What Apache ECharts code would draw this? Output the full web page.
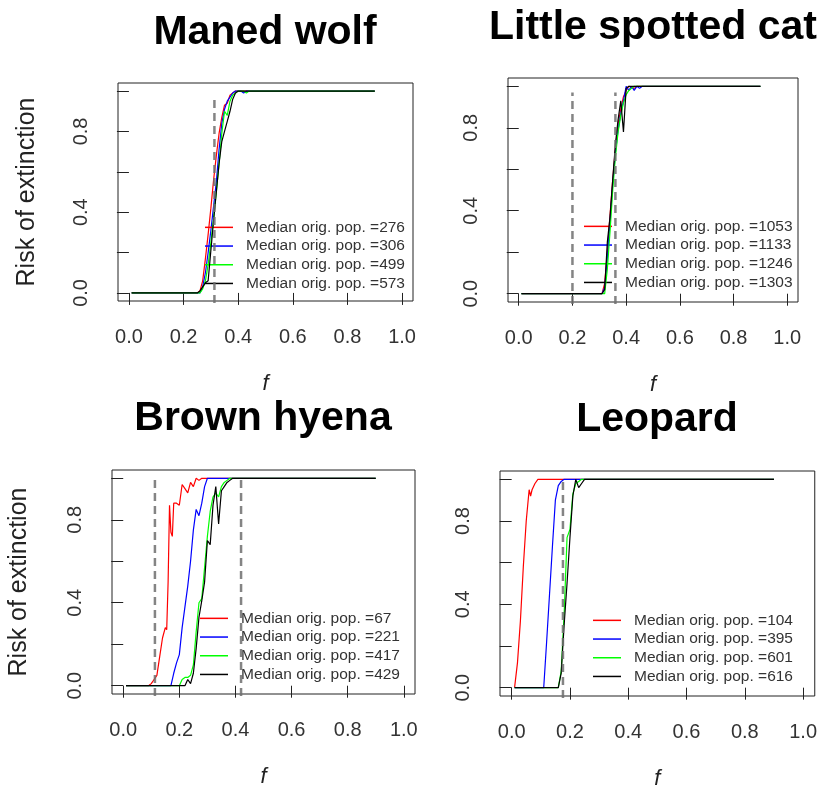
<!DOCTYPE html>
<html>
<head>
<meta charset="utf-8">
<script src="https://cdn.jsdelivr.net/npm/echarts@6/dist/echarts.min.js"></script>
<style>
  html, body { margin: 0; padding: 0; background: #fff; }
  #chart { width: 820px; height: 791px; }
</style>
</head>
<body>
<div id="chart"></div>
<script>
// panel titles and legend values
const panelTitles = ['Maned wolf', 'Little spotted cat', 'Brown hyena', 'Leopard'];
const medianPops = [
  [276, 306, 499, 573],
  [1053, 1133, 1246, 1303],
  [67, 221, 417, 429],
  [104, 395, 601, 616]
];
// grey dashed reference lines (f values)
const dashedF = [[0.313], [0.2, 0.36], [0.113, 0.42], [0.176]];
const dashedTop = [0.97, 0.97, 1.0, 1.0];

const xTicks = [0, 0.2, 0.4, 0.6, 0.8, 1.0];
const yTicks = [0, 0.2, 0.4, 0.6, 0.8, 1.0];
const yTickLabels = [0, 0.4, 0.8];

// risk of extinction vs f
const wolfRed = [[0.01,0],[0.25,0],[0.26,0.01],[0.27,0.06],[0.28,0.17],[0.29,0.29],[0.30,0.42],[0.31,0.56],[0.32,0.68],[0.33,0.79],[0.34,0.87],[0.35,0.93],[0.36,0.94],[0.37,0.98],[0.38,0.99],[0.39,1],[0.9,1]];
const wolfBlue = [[0.01,0],[0.26,0],[0.27,0.03],[0.28,0.10],[0.29,0.2],[0.30,0.31],[0.31,0.43],[0.32,0.55],[0.33,0.71],[0.34,0.84],[0.35,0.91],[0.36,0.95],[0.37,0.97],[0.38,0.99],[0.39,1],[0.41,1],[0.42,0.99],[0.43,1],[0.9,1]];
const wolfGreen = [[0.01,0],[0.26,0],[0.27,0.02],[0.28,0.06],[0.29,0.14],[0.30,0.25],[0.31,0.37],[0.32,0.5],[0.33,0.64],[0.34,0.79],[0.35,0.9],[0.36,0.88],[0.37,0.95],[0.38,0.98],[0.39,0.99],[0.40,1],[0.42,1],[0.43,0.99],[0.44,1],[0.9,1]];
const wolfBlack = [[0.01,0],[0.25,0],[0.26,0.01],[0.27,0.03],[0.28,0.05],[0.29,0.06],[0.30,0.21],[0.31,0.36],[0.32,0.5],[0.33,0.64],[0.34,0.75],[0.35,0.8],[0.36,0.85],[0.37,0.9],[0.38,0.96],[0.39,0.99],[0.40,1],[0.9,1]];

const catRed = [[0.01,0],[0.31,0],[0.32,0.05],[0.33,0.2],[0.34,0.38],[0.35,0.55],[0.36,0.7],[0.37,0.82],[0.38,0.89],[0.39,0.95],[0.40,0.98],[0.41,1],[0.43,0.99],[0.44,1],[0.9,1]];
const catBlue = [[0.01,0],[0.31,0],[0.32,0.03],[0.33,0.17],[0.34,0.35],[0.35,0.53],[0.36,0.68],[0.37,0.79],[0.38,0.87],[0.39,0.93],[0.40,1],[0.41,0.98],[0.42,1],[0.43,0.98],[0.44,1],[0.45,0.99],[0.46,1],[0.9,1]];
const catGreen = [[0.01,0],[0.32,0],[0.33,0.12],[0.34,0.3],[0.35,0.5],[0.36,0.66],[0.37,0.78],[0.38,0.86],[0.39,0.92],[0.40,0.96],[0.41,0.98],[0.42,0.99],[0.43,1],[0.9,1]];
const catBlack = [[0.01,0],[0.31,0],[0.32,0.02],[0.33,0.25],[0.34,0.37],[0.35,0.55],[0.36,0.72],[0.37,0.84],[0.38,0.93],[0.39,0.78],[0.40,0.99],[0.41,1],[0.9,1]];

const hyenaRed = [[0.01,0],[0.09,0],[0.10,0.01],[0.11,0.03],[0.12,0.05],[0.13,0.14],[0.14,0.23],[0.15,0.28],[0.155,0.27],[0.16,0.5],[0.165,0.87],[0.17,0.74],[0.175,0.72],[0.18,0.88],[0.19,0.88],[0.20,0.87],[0.21,0.97],[0.22,0.95],[0.23,0.93],[0.24,0.98],[0.25,0.96],[0.26,1],[0.27,0.99],[0.28,1],[0.9,1]];
const hyenaBlue = [[0.01,0],[0.17,0],[0.18,0.06],[0.19,0.11],[0.20,0.15],[0.21,0.28],[0.22,0.38],[0.23,0.48],[0.24,0.6],[0.25,0.75],[0.26,0.85],[0.27,0.82],[0.28,0.88],[0.29,0.96],[0.30,1],[0.9,1]];
const hyenaGreen = [[0.01,0],[0.20,0],[0.21,0.03],[0.22,0.04],[0.23,0.04],[0.24,0.05],[0.25,0.1],[0.26,0.26],[0.27,0.4],[0.28,0.42],[0.29,0.57],[0.30,0.72],[0.31,0.84],[0.32,0.91],[0.33,0.93],[0.34,0.91],[0.35,0.96],[0.36,0.98],[0.37,0.99],[0.38,1],[0.9,1]];
const hyenaBlack = [[0.01,0],[0.22,0],[0.23,0.03],[0.24,0.01],[0.25,0.06],[0.26,0.18],[0.27,0.33],[0.28,0.41],[0.29,0.5],[0.30,0.7],[0.31,0.68],[0.32,0.87],[0.33,0.96],[0.34,0.78],[0.35,0.94],[0.36,0.96],[0.37,0.98],[0.38,0.99],[0.39,1],[0.9,1]];

const leopardRed = [[0.01,0],[0.02,0.12],[0.03,0.32],[0.04,0.58],[0.05,0.8],[0.06,0.95],[0.065,0.92],[0.07,0.95],[0.08,0.98],[0.09,1],[0.9,1]];
const leopardBlue = [[0.01,0],[0.11,0],[0.12,0.22],[0.13,0.45],[0.14,0.68],[0.15,0.9],[0.16,0.97],[0.17,0.99],[0.18,1],[0.9,1]];
const leopardGreen = [[0.01,0],[0.16,0],[0.17,0.08],[0.18,0.35],[0.19,0.72],[0.20,0.76],[0.21,0.93],[0.22,0.98],[0.23,0.99],[0.24,1],[0.9,1]];
const leopardBlack = [[0.01,0],[0.16,0],[0.17,0.07],[0.18,0.3],[0.19,0.5],[0.20,0.72],[0.21,0.92],[0.22,1],[0.23,0.96],[0.24,0.98],[0.25,1],[0.9,1]];

const panelCurves = [
  [wolfRed, wolfBlue, wolfGreen, wolfBlack],
  [catRed, catBlue, catGreen, catBlack],
  [hyenaRed, hyenaBlue, hyenaGreen, hyenaBlack],
  [leopardRed, leopardBlue, leopardGreen, leopardBlack]
];

const lineColors = ['#ff0000', '#0000ff', '#00ff00', '#000000'];
const FONT = '"Liberation Sans", Arial, sans-serif';

// layout of the four plot boxes
const boxes = [
  { left: 118, top: 83, width: 295, height: 218 },
  { left: 508, top: 78, width: 290, height: 224 },
  { left: 112, top: 470, width: 303, height: 224 },
  { left: 500, top: 471, width: 316, height: 225 }
];
const titlePos = [[265, 12], [653, 7], [263, 398], [657, 399]];
const legendPos = [[205, 218], [584, 217], [200, 609], [593, 611]];

const chart = echarts.init(document.getElementById('chart'), null, { renderer: 'canvas' });

const grid = [], xAxis = [], yAxis = [], series = [], title = [], legend = [];

boxes.forEach((b, i) => {
  grid.push({
    left: b.left, top: b.top, width: b.width, height: b.height,
    show: true, borderColor: '#222', borderWidth: 1, backgroundColor: 'transparent'
  });
  xAxis.push({
    type: 'value', gridIndex: i, min: -0.04, max: 1.04,
    name: 'f', nameLocation: 'middle', nameGap: 72,
    nameTextStyle: { fontFamily: FONT, fontStyle: 'italic', fontSize: 22, color: '#222' },
    axisLine: { show: false },
    splitLine: { show: false },
    axisTick: { show: true, customValues: xTicks, length: 12, lineStyle: { color: '#222' } },
    axisLabel: {
      customValues: xTicks, margin: 26, fontSize: 20, color: '#333', fontFamily: FONT,
      formatter: v => v.toFixed(1)
    }
  });
  yAxis.push({
    type: 'value', gridIndex: i, min: -0.04, max: 1.04,
    name: i % 2 === 0 ? 'Risk of extinction' : '',
    nameLocation: 'middle', nameGap: i === 0 ? 78 : 80, nameRotate: 90,
    nameTextStyle: { fontFamily: FONT, fontSize: 25, color: '#222' },
    axisLine: { show: false },
    splitLine: { show: false },
    axisTick: { show: true, customValues: yTicks, length: 12, lineStyle: { color: '#222' } },
    axisLabel: {
      customValues: yTickLabels, rotate: 90, margin: 27, fontSize: 20, color: '#333', fontFamily: FONT,
      formatter: v => v.toFixed(1)
    }
  });
  title.push({
    text: panelTitles[i], left: titlePos[i][0], top: titlePos[i][1], textAlign: 'center', padding: 0,
    textStyle: { fontFamily: FONT, fontWeight: 'bold', fontSize: 41, color: '#000' }
  });
  const names = medianPops[i].map(p => 'Median orig. pop. =' + p);
  legend.push({
    data: names, orient: 'vertical', left: legendPos[i][0], top: legendPos[i][1],
    padding: 0, itemGap: 0, icon: 'rect', itemWidth: 28, itemHeight: 1.5,
    selectedMode: false,
    textStyle: { fontFamily: FONT, fontSize: 15.5, color: '#333', lineHeight: 18.7, padding: [0, 0, 0, 8] }
  });
  panelCurves[i].forEach((d, k) => {
    series.push({
      type: 'line', name: names[k], xAxisIndex: i, yAxisIndex: i,
      data: d, symbol: 'none', showSymbol: false,
      lineStyle: { width: 1.2, color: lineColors[k] },
      itemStyle: { color: lineColors[k] },
      z: 2 + k
    });
  });
  dashedF[i].forEach(x => {
    series.push({
      type: 'line', xAxisIndex: i, yAxisIndex: i, silent: true, clip: false,
      data: [[x, -0.05], [x, dashedTop[i]]], symbol: 'none',
      lineStyle: { width: 2.5, color: 'rgba(110,110,110,0.85)', type: [8, 5] },
      z: 10
    });
  });
});

chart.setOption({
  backgroundColor: '#ffffff',
  animation: false,
  title, grid, xAxis, yAxis, legend, series
});
window.addEventListener('resize', () => chart.resize());
</script>
</body>
</html>
